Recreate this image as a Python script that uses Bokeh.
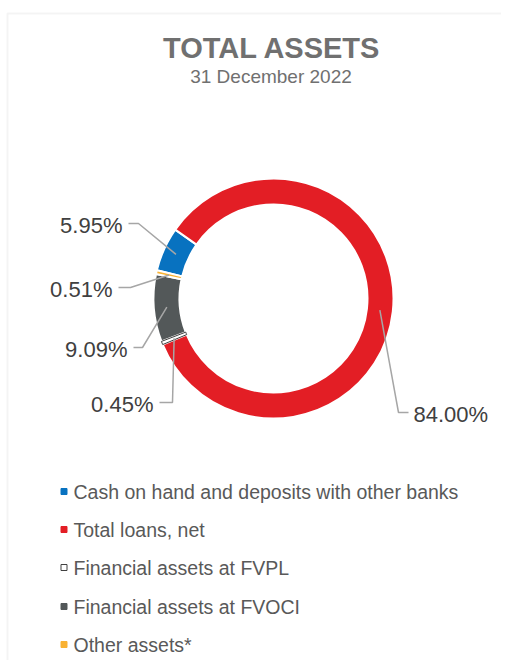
import numpy as np
from bokeh.plotting import figure
from bokeh.models import ColumnDataSource, Range1d, BoxAnnotation
from bokeh.core.properties import value
from bokeh.embed import file_html
from bokeh.resources import INLINE

# ---------------- data ----------------
title = "TOTAL ASSETS"
subtitle = "31 December 2022"
categories = [
    "Cash on hand and deposits with other banks",
    "Total loans, net",
    "Financial assets at FVPL",
    "Financial assets at FVOCI",
    "Other assets*",
]
shares = [5.95, 84.00, 0.45, 9.09, 0.51]
colors = ["#0872c0", "#e31e25", "#ffffff", "#535859", "#f9b233"]
edge_colors = ["#ffffff", "#ffffff", "#404040", "#ffffff", "#ffffff"]
marker_edges = ["#0872c0", "#e31e25", "#404040", "#535859", "#f9b233"]
pct_labels = ["%.2f%%" % s for s in shares]

# ---------------- layout (page pixels) ----------------
W, H = 501, 660
PAGE_H = 668


def Y(py):
    return PAGE_H - py


cx, cy = 273, Y(298)
r_out, r_in = 120, 94
start_deg = 166.4

# label anchor (line y), text side, elbow x
lab_x = [122, 413, 153, 127, 112]
lab_y = [223, 412, 402, 347, 287]
lab_align = ["right", "left", "right", "right", "right"]
elbow_x = [138, 398, 172, 142, 130]

legend_y = [491, 529, 567, 606, 644]
legend_marker_x = 63.5
legend_text_x = 73

FONT = value("Liberation Sans")

# ---------------- geometry from data ----------------
fr = np.array(shares) / sum(shares)
cum = np.concatenate([[0.0], np.cumsum(fr)[:-1]])
start = np.radians(start_deg - cum * 360.0)
end = np.radians(start_deg - (cum + fr) * 360.0)
mid = (start + end) / 2.0
r_mid = (r_out + r_in) / 2.0
end_x = cx + r_mid * np.cos(mid)
end_y = cy + r_mid * np.sin(mid)

p = figure(width=W, height=H, x_range=Range1d(0, W), y_range=Range1d(Y(H), Y(0)),
           output_backend="svg", toolbar_location=None, min_border=0,
           x_axis_type=None, y_axis_type=None)
p.grid.visible = False
p.outline_line_color = None
p.background_fill_color = "white"
p.border_fill_color = "white"

frame = BoxAnnotation(left=7, right=900, top=Y(13), bottom=-300,
                      fill_color=None, fill_alpha=0,
                      line_color="#d9d9d9", line_width=2)
p.add_layout(frame)

# donut
order = [0, 1, 3, 4, 2]  # draw FVPL last so its outline shows
src = ColumnDataSource(dict(
    start=[start[i] for i in order], end=[end[i] for i in order],
    color=[colors[i] for i in order], edge=[edge_colors[i] for i in order],
    lw=[1.0 if i == 2 else 2.0 for i in order],
))
p.annular_wedge(x=cx, y=cy, inner_radius=r_in, outer_radius=r_out,
                start_angle="start", end_angle="end", direction="clock",
                fill_color="color", line_color="edge", line_width="lw", source=src)

# leader lines
xs, ys = [], []
for i in range(len(shares)):
    sx = lab_x[i] + (6 if lab_align[i] == "right" else -5)
    xs.append([sx, elbow_x[i], end_x[i]])
    ys.append([Y(lab_y[i]), Y(lab_y[i]), end_y[i]])
p.multi_line(xs=xs, ys=ys, line_color="#a6a6a6", line_width=1.5)

# percentage labels
for i in range(len(shares)):
    p.text(x=[lab_x[i]], y=[Y(lab_y[i] + 1.5)], text=[pct_labels[i]],
           text_font=FONT, text_font_size="22px", text_color="#404040",
           text_align=lab_align[i], text_baseline="middle")

# title
p.text(x=[271.5], y=[Y(47.5)], text=[title], text_font=FONT, text_font_size="29px",
       text_font_style=value("bold"), text_color="#707070",
       text_align="center", text_baseline="middle")
p.text(x=[270.5], y=[Y(76)], text=[subtitle], text_font=FONT, text_font_size="19px",
       text_color="#707070", text_align="center", text_baseline="middle")

# legend
p.scatter(x=[legend_marker_x] * len(categories), y=[Y(v) for v in legend_y],
          marker="square", size=6, fill_color=colors, line_color=marker_edges,
          line_width=1)
p.text(x=[legend_text_x] * len(categories), y=[Y(v) for v in legend_y], text=categories,
       text_font=FONT, text_font_size="19.5px", text_color="#595959",
       text_align="left", text_baseline="middle")

open("out.html", "w").write(file_html(p, INLINE))
